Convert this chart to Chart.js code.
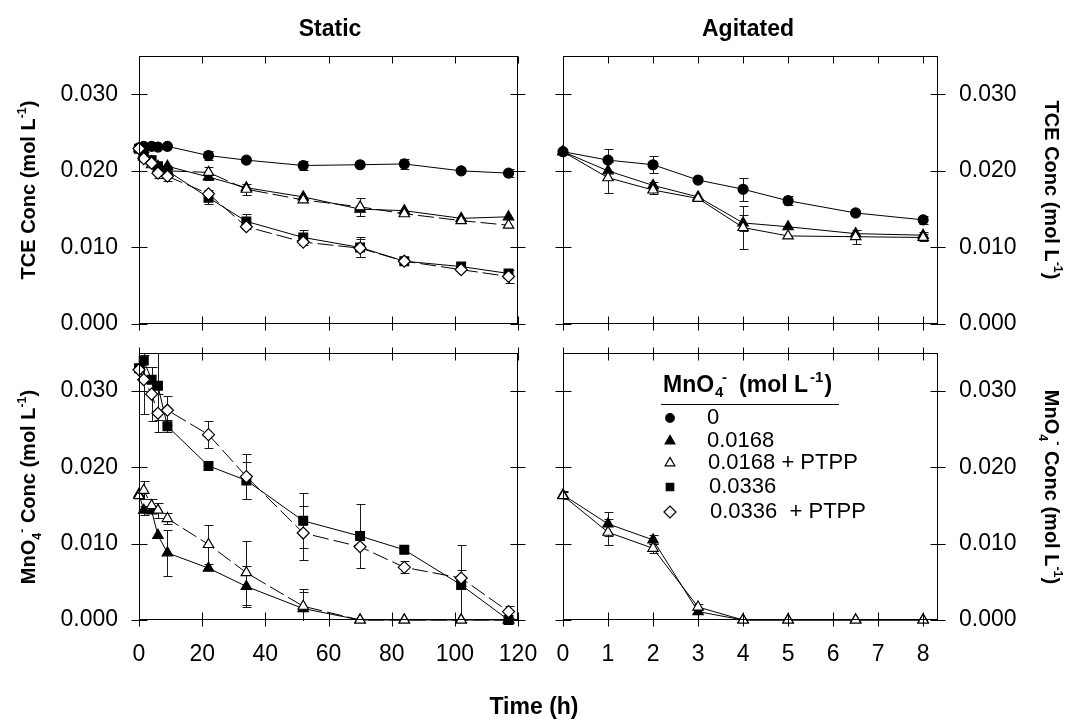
<!DOCTYPE html>
<html>
<head>
<meta charset="utf-8">
<title>TCE and MnO4- concentration, static vs agitated</title>
<script src="https://cdn.jsdelivr.net/npm/chart.js@4.4.1/dist/chart.umd.min.js"></script>
<style>
  html, body { margin: 0; padding: 0; background: #fff; }
  #fig { position: relative; width: 1076px; height: 725px; overflow: hidden; background: #fff; }
  #fig canvas { position: absolute; left: 0; top: 0; }
  .lab { position: absolute; font-family: "Liberation Sans", Arial, sans-serif; font-weight: bold; color: #000;
         white-space: nowrap; line-height: 1; transform: translate(-50%, -50%); }
  .lab sup, .lab sub { font-size: 62%; line-height: 0; position: relative; vertical-align: baseline; }
  .lab sup { top: -0.75em; }
  .lab sub { top: 0.45em; }
  .lab.rl { transform: translate(-50%, -50%) rotate(-90deg); }
  .lab.rr { transform: translate(-50%, -50%) rotate(90deg); }
</style>
</head>
<body>
<div id="fig">
  <canvas id="tceStatic" width="1076" height="725"></canvas>
  <canvas id="tceAgit" width="1076" height="725"></canvas>
  <canvas id="mnStatic" width="1076" height="725"></canvas>
  <canvas id="mnAgit" width="1076" height="725"></canvas>

  <div class="lab" style="left:330px; top:28px; font-size:23px;">Static</div>
  <div class="lab" style="left:748px; top:28px; font-size:23px;">Agitated</div>
  <div class="lab" style="left:534px; top:706px; font-size:23px;">Time (h)</div>

  <div class="lab rl" style="left:28px; top:190px; font-size:20px;">TCE Conc (mol L<sup>-1</sup>)</div>
  <div class="lab rl" style="left:28px; top:487px; font-size:20px;">MnO<sub>4</sub><sup>-</sup> Conc (mol L<sup>-1</sup>)</div>
  <div class="lab rr" style="left:1052px; top:190px; font-size:20px;">TCE Conc (mol L<sup>-1</sup>)</div>
  <div class="lab rr" style="left:1052px; top:487px; font-size:20px;">MnO<sub>4</sub><sup>-</sup> Conc (mol L<sup>-1</sup>)</div>
</div>

<script>
// sampling times (h)
var tStatic = [0, 1.5, 4, 6, 9, 22, 34, 52, 70, 84, 102, 117];
var tAgit = [0, 1, 2, 3, 4, 5, 6.5, 8];

// legend / series names (MnO4- dose, mol/L)
var seriesNames = ['0', '0.0168', '0.0168 + PTPP', '0.0336', '0.0336  + PTPP'];

// TCE, static
var tce0S    = [0.0230, 0.0232, 0.0232, 0.0231, 0.0232, 0.0220, 0.0214, 0.0207, 0.0208, 0.0209, 0.0200, 0.0197];
var tce0SErr = [0, 0, 0, 0, 0, 0.0006, 0, 0.0006, 0, 0.0006, 0, 0.0005];
var tceLoS    = [0.0229, 0.0222, 0.0212, 0.0206, 0.0206, 0.0192, 0.0178, 0.0166, 0.0150, 0.0148, 0.0138, 0.0140];
var tceLoSErr = [0, 0.0005, 0, 0, 0, 0.0004, 0, 0, 0, 0, 0, 0];
var tceLoPS    = [0.0229, 0.0218, 0.0208, 0.0203, 0.0200, 0.0198, 0.0176, 0.0162, 0.0153, 0.0144, 0.0135, 0.0129];
var tceLoPSErr = [0, 0.0006, 0, 0, 0.0005, 0.0007, 0.0007, 0, 0.0012, 0, 0, 0];
var tceHiS    = [0.0229, 0.0224, 0.0214, 0.0206, 0.0200, 0.0165, 0.0134, 0.0113, 0.0100, 0.0082, 0.0075, 0.0066];
var tceHiSErr = [0, 0.0005, 0, 0, 0, 0.0008, 0.0010, 0.0010, 0.0013, 0, 0, 0];
var tceHiPS    = [0.0229, 0.0216, 0.0210, 0.0197, 0.0193, 0.0170, 0.0127, 0.0107, 0.0099, 0.0082, 0.0071, 0.0062];
var tceHiPSErr = [0, 0, 0, 0.0006, 0.0006, 0.0005, 0, 0, 0.0012, 0, 0, 0.0008];

// TCE, agitated
var tce0A    = [0.0225, 0.0214, 0.0208, 0.0188, 0.0176, 0.0161, 0.0145, 0.0136];
var tce0AErr = [0, 0.0014, 0.0011, 0, 0.0015, 0.0006, 0, 0.0005];
var tceLoA    = [0.0225, 0.0200, 0.0181, 0.0166, 0.0132, 0.0127, 0.0118, 0.0116];
var tceLoAErr = [0, 0, 0.0005, 0, 0.0010, 0, 0, 0.0004];
var tceLoPA    = [0.0225, 0.0191, 0.0175, 0.0164, 0.0126, 0.0115, 0.0114, 0.0113];
var tceLoPAErr = [0, 0.0020, 0.0005, 0, 0.0028, 0, 0.0009, 0.0004];

// MnO4-, static
var mnLoS    = [0.0165, 0.0144, 0.0143, 0.0111, 0.0088, 0.0068, 0.0044, 0.0015, 0, 0, 0, 0];
var mnLoSErr = [0, 0.0006, 0, 0, 0.0030, 0, 0.0027, 0.0022, 0, 0, 0, 0];
var mnLoPS    = [0.0163, 0.0170, 0.0150, 0.0144, 0.0133, 0.0099, 0.0062, 0.0018, 0, 0, 0, 0];
var mnLoPSErr = [0, 0.0012, 0.0008, 0.0010, 0.0007, 0.0026, 0.0042, 0.0022, 0, 0, 0, 0];
var mnHiS    = [0.0330, 0.0340, 0.0315, 0.0307, 0.0254, 0.0202, 0.0183, 0.0130, 0.0110, 0.0092, 0.0046, 0.0000];
var mnHiSErr = [0, 0.0008, 0, 0.0045, 0.0008, 0, 0.0024, 0.0036, 0.0042, 0, 0.0052, 0];
var mnHiPS    = [0.0328, 0.0315, 0.0296, 0.0271, 0.0275, 0.0243, 0.0188, 0.0114, 0.0096, 0.0069, 0.0055, 0.0011];
var mnHiPSErr = [0, 0.0045, 0.0035, 0.0025, 0.0019, 0.0018, 0.0030, 0.0036, 0, 0.0008, 0.0011, 0.0008];

// MnO4-, agitated
var mnLoA    = [0.0164, 0.0126, 0.0105, 0.0011, 0, 0, 0, 0];
var mnLoAErr = [0.0005, 0.0016, 0.0006, 0, 0, 0, 0, 0];
var mnLoPA    = [0.0163, 0.0115, 0.0094, 0.0017, 0, 0, 0, 0];
var mnLoPAErr = [0.0005, 0.0017, 0.0006, 0.0004, 0, 0, 0, 0];

var W = 1076, H = 725;
var FONT = '"Liberation Sans", Arial, sans-serif';

Chart.defaults.font.family = FONT;
Chart.defaults.font.size = 23;
Chart.defaults.color = '#000';

// marker look per series, same order as seriesNames
// (lower order is drawn on top)
var markers = [
    { shape: 'circle',   r: 5,   fill: '#000', dash: [],      order: 1 },
    { shape: 'triangle', r: 6,   fill: '#000', dash: [],      order: 3 },
    { shape: 'triangle', r: 6,   fill: '#fff', dash: [16, 5], order: 2 },
    { shape: 'rect',     r: 6.2, fill: '#000', dash: [],      order: 1 },
    { shape: 'rectRot',  r: 6,   fill: '#fff', dash: [16, 5], order: 0 }
];

function series(xs, ys, errs, k, solid) {
    var m = markers[k];
    return {
        label: seriesNames[k],
        data: xs.map(function (x, i) { return { x: x, y: ys[i] }; }),
        yErr: errs,
        order: m.order,
        showLine: true,
        borderColor: '#000',
        borderWidth: 1,
        borderDash: solid ? [] : m.dash,
        pointStyle: m.shape,
        pointRadius: m.r,
        pointBackgroundColor: m.fill,
        pointBorderColor: '#000',
        pointBorderWidth: 1.2,
        clip: false
    };
}

// vertical error bars from each dataset's yErr
var errorBars = {
    id: 'errorBars',
    beforeDatasetsDraw: function (chart) {
        var ctx = chart.ctx, a = chart.chartArea;
        var xs = chart.scales.x, ys = chart.scales.y;
        ctx.save();
        ctx.beginPath();
        ctx.rect(a.left, a.top, a.right - a.left, a.bottom - a.top + 1);
        ctx.clip();
        ctx.strokeStyle = '#1a1a1a';
        ctx.lineWidth = 1;
        chart.data.datasets.forEach(function (d) {
            if (!d.yErr) return;
            d.data.forEach(function (p, i) {
                var e = d.yErr[i];
                if (!e) return;
                var x = Math.round(xs.getPixelForValue(p.x)) + 0.5;
                var y1 = Math.round(ys.getPixelForValue(p.y + e)) + 0.5;
                var y2 = Math.round(ys.getPixelForValue(p.y - e)) + 0.5;
                ctx.beginPath();
                ctx.moveTo(x, y1); ctx.lineTo(x, y2);
                ctx.moveTo(x - 4, y1); ctx.lineTo(x + 5, y1);
                ctx.moveTo(x - 4, y2); ctx.lineTo(x + 5, y2);
                ctx.stroke();
            });
        });
        ctx.restore();
    }
};

// box round the plot with ticks crossing the edges
var frame = {
    id: 'frame',
    afterDraw: function (chart, args, opt) {
        var ctx = chart.ctx, a = chart.chartArea;
        var L = Math.round(a.left) + 0.5, R = Math.round(a.right) - 0.5;
        var T = Math.round(a.top) + 0.5, B = Math.round(a.bottom) - 0.5;
        var xs = chart.scales.x, ys = chart.scales.y;
        ctx.save();
        ctx.strokeStyle = '#000';
        ctx.lineWidth = 1;
        ctx.strokeRect(L, T, R - L, B - T);
        ctx.beginPath();
        xs.ticks.forEach(function (t) {
            var px = Math.round(xs.getPixelForValue(t.value)) + 0.5;
            ctx.moveTo(px, B - 7); ctx.lineTo(px, B + 7);
            ctx.moveTo(px, T - opt.topOut); ctx.lineTo(px, T + 7);
        });
        ys.ticks.forEach(function (t) {
            var py = Math.round(ys.getPixelForValue(t.value)) + 0.5;
            ctx.moveTo(L - 8, py); ctx.lineTo(L + 8, py);
            ctx.moveTo(R - 7, py); ctx.lineTo(R + 8, py);
        });
        ctx.stroke();
        ctx.restore();
    }
};

function drawMarker(ctx, m, x, y, r) {
    ctx.beginPath();
    if (m.shape === 'circle') {
        ctx.arc(x, y, r, 0, Math.PI * 2);
    } else if (m.shape === 'triangle') {
        ctx.moveTo(x, y - r); ctx.lineTo(x + r * 0.866, y + r / 2); ctx.lineTo(x - r * 0.866, y + r / 2);
        ctx.closePath();
    } else if (m.shape === 'rect') {
        var s = r * Math.SQRT1_2;
        ctx.rect(x - s, y - s, 2 * s, 2 * s);
    } else {
        ctx.moveTo(x - r, y); ctx.lineTo(x, y - r); ctx.lineTo(x + r, y); ctx.lineTo(x, y + r);
        ctx.closePath();
    }
    ctx.fillStyle = m.fill;
    ctx.fill();
    ctx.lineWidth = 1.2;
    ctx.strokeStyle = '#000';
    ctx.stroke();
}

// key with all five series, sits in the agitated MnO4- panel
var keyBox = {
    id: 'keyBox',
    afterDraw: function (chart) {
        var ctx = chart.ctx;
        var x = 663, base = 392;
        ctx.save();
        ctx.fillStyle = '#000';
        ctx.textBaseline = 'alphabetic';
        ctx.font = 'bold 23px ' + FONT;
        ctx.fillText('MnO', x, base);
        x += ctx.measureText('MnO').width;
        ctx.font = 'bold 15px ' + FONT;
        ctx.fillText('4', x + 1, base + 5);
        ctx.fillText('-', x + 8, base - 10);
        x += 25;
        ctx.font = 'bold 23px ' + FONT;
        ctx.fillText('(mol L', x, base);
        x += ctx.measureText('(mol L').width;
        ctx.font = 'bold 15px ' + FONT;
        ctx.fillText('-1', x + 2, base - 10);
        x += ctx.measureText('-1').width + 3;
        ctx.font = 'bold 23px ' + FONT;
        ctx.fillText(')', x, base);

        ctx.beginPath();
        ctx.lineWidth = 1.2;
        ctx.strokeStyle = '#000';
        ctx.moveTo(661, 404.5); ctx.lineTo(839, 404.5);
        ctx.stroke();

        var rows = [418, 441, 463, 487, 512];
        var sizes = [4.3, 5.6, 5.6, 5.3, 6];
        ctx.font = '22px ' + FONT;
        ctx.textBaseline = 'middle';
        seriesNames.forEach(function (name, k) {
            drawMarker(ctx, markers[k], 670, rows[k], sizes[k]);
            ctx.fillStyle = '#000';
            ctx.fillText(name, 707 + (k > 1 ? k - 1 : 0), rows[k]);
        });
        ctx.restore();
    }
};

function panel(id, box, xMax, xLabels, agitated, topOut, datasets, extra) {
    var left = box[0], top = box[1], right = box[2], bottom = box[3];
    var none = { display: false, drawTicks: false };
    var yLab = {
        type: 'linear', min: 0, max: 0.035, bounds: 'data',
        position: agitated ? 'right' : 'left',
        ticks: { stepSize: 0.01, includeBounds: false, padding: 21,
                 callback: function (v) { return v.toFixed(3); } },
        grid: none, border: { display: false },
        afterFit: function (s) { s.width = agitated ? W - right : left; }
    };
    var yBlank = {
        type: 'linear', min: 0, max: 0.035, bounds: 'data',
        position: agitated ? 'left' : 'right',
        ticks: { display: false, stepSize: 0.01, includeBounds: false },
        grid: none, border: { display: false },
        afterFit: function (s) { s.width = agitated ? left : W - right; }
    };
    return new Chart(document.getElementById(id), {
        type: 'scatter',
        data: { datasets: datasets },
        options: {
            responsive: false,
            animation: false,
            devicePixelRatio: 1,
            events: [],
            layout: { padding: { top: top, left: 0, right: 0, bottom: 0 } },
            scales: {
                x: {
                    type: 'linear', min: 0, max: xMax, bounds: 'data',
                    ticks: { stepSize: agitated ? 1 : 20, includeBounds: false, display: xLabels,
                             padding: 21, maxRotation: 0, autoSkip: false },
                    grid: none, border: { display: false },
                    afterFit: function (s) { s.height = H - bottom; }
                },
                y: yLab,
                y2: yBlank
            },
            plugins: {
                legend: { display: false },
                tooltip: { enabled: false },
                frame: { topOut: topOut }
            }
        },
        plugins: [errorBars, frame].concat(extra || [])
    });
}

panel('tceStatic', [139, 56, 518, 324], 120, false, false, 0, [
    series(tStatic, tce0S, tce0SErr, 0),
    series(tStatic, tceLoS, tceLoSErr, 1),
    series(tStatic, tceLoPS, tceLoPSErr, 2),
    series(tStatic, tceHiS, tceHiSErr, 3),
    series(tStatic, tceHiPS, tceHiPSErr, 4)
]);

panel('tceAgit', [563, 56, 938, 324], 8.33, false, true, 0, [
    series(tAgit, tce0A, tce0AErr, 0),
    series(tAgit, tceLoA, tceLoAErr, 1),
    series(tAgit, tceLoPA, tceLoPAErr, 2, true)
]);

panel('mnStatic', [139, 353, 518, 620], 120, true, false, 6, [
    series(tStatic, mnLoS, mnLoSErr, 1),
    series(tStatic, mnLoPS, mnLoPSErr, 2),
    series(tStatic, mnHiS, mnHiSErr, 3),
    series(tStatic, mnHiPS, mnHiPSErr, 4)
]);

panel('mnAgit', [563, 353, 938, 620], 8.33, true, true, 6, [
    series(tAgit, mnLoA, mnLoAErr, 1),
    series(tAgit, mnLoPA, mnLoPAErr, 2, true)
], [keyBox]);
</script>
</body>
</html>
